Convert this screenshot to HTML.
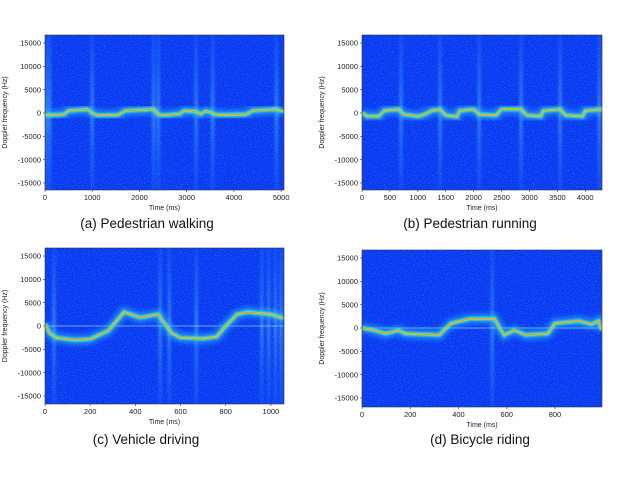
<!DOCTYPE html>
<html><head><meta charset="utf-8"><style>
html,body{margin:0;padding:0;background:#fff;}
svg{display:block;font-family:"Liberation Sans",sans-serif;}
.tk{font-size:7.5px;fill:#222;}
.ax{font-size:7px;fill:#222;}
.cap{font-size:13.5px;fill:#111;}
</style></head><body>
<svg id="fig" width="640" height="478" viewBox="0 0 640 478">
<defs>
<filter id="noise" x="0" y="0" width="100%" height="100%">
<feTurbulence type="fractalNoise" baseFrequency="0.9" numOctaves="2" seed="3"/>
<feColorMatrix type="matrix" values="0 0 0 0 0.1  0 0 0 0 0.4  0 0 0 0 1  0 0 0 1.8 -0.8"/>
</filter>
<filter id="blur1" x="-10%" y="-50%" width="120%" height="200%"><feGaussianBlur stdDeviation="2.2"/></filter>
<filter id="blur2" filterUnits="userSpaceOnUse" x="0" y="0" width="640" height="478"><feGaussianBlur stdDeviation="0.8"/></filter>
<filter id="blurS" filterUnits="userSpaceOnUse" x="0" y="0" width="640" height="478"><feGaussianBlur stdDeviation="1.2 0"/></filter>
<linearGradient id="sg" x1="0" y1="0" x2="0" y2="1">
<stop offset="0" stop-color="#3a9cff" stop-opacity="0.35"/>
<stop offset="0.5" stop-color="#70e8ff" stop-opacity="0.75"/>
<stop offset="1" stop-color="#3a9cff" stop-opacity="0.35"/>
</linearGradient>
</defs>
</svg>
<script>
// Panel (a) pedestrian walking
const walkT=[0,400,500,900,1000,1100,1550,1700,2300,2400,2500,2850,2950,3200,3300,3400,3500,3600,3700,4250,4400,4900,5050];
const walkF=[-500,-300,500,800,0,-500,-400,500,800,-300,-500,-200,500,300,-200,400,200,-300,-400,-300,500,800,300];
const walkStreaks=[30,100,1000,2300,2400,3200,3550,4900];
const walkXTicks=[0,1000,2000,3000,4000,5000];
// Panel (b) pedestrian running
const runT=[0,100,300,400,650,750,1000,1100,1250,1400,1500,1700,1750,2000,2100,2400,2500,2850,2950,3200,3250,3550,3650,3950,4000,4300];
const runF=[0,-700,-700,500,800,-300,-700,-400,500,800,-500,-800,500,800,-300,-500,800,800,-500,-700,500,800,-500,-700,500,800];
const runStreaks=[700,1400,2100,2850,3550,4250];
const runXTicks=[0,500,1000,1500,2000,2500,3000,3500,4000];
// Panel (c) vehicle driving
const vehT=[0,20,50,130,200,280,350,420,500,560,600,700,760,800,850,900,1000,1055];
const vehF=[500,-1500,-2500,-3000,-2800,-1000,3000,1800,2500,-1500,-2500,-2700,-2300,0,2500,3000,2500,1700];
const vehStreaks=[40,510,550,670,960,990,1020,1045];
const vehXTicks=[0,200,400,600,800,1000];
// Panel (d) bicycle riding
const bikeT=[0,50,100,150,180,320,350,370,450,550,570,590,630,680,770,800,900,950,980,995];
const bikeF=[0,-500,-1200,-500,-1200,-1500,0,1000,2000,2000,0,-1500,-500,-1500,-1200,1000,1500,800,1500,-500];
const bikeStreaks=[540];
const bikeXTicks=[0,200,400,600,800];
const yTicks=[15000,10000,5000,0,-5000,-10000,-15000];

const NS='http://www.w3.org/2000/svg';
const svg=document.getElementById('fig');
function mk(tag,attrs,parent){const e=document.createElementNS(NS,tag);for(const k in attrs)e.setAttribute(k,attrs[k]);(parent||svg).appendChild(e);return e;}

const panels=[
 {id:'a',x0:45,x1:284,y0:35,y1:190,tmax:5060,ymid:113,yspan:70,T:walkT,F:walkF,S:walkStreaks,xt:walkXTicks,xl:'Time (ms)',cap:'(a) Pedestrian walking',capx:147,capy:228,zero:false},
 {id:'b',x0:362,x1:602,y0:35,y1:190,tmax:4300,ymid:113,yspan:70,T:runT,F:runF,S:runStreaks,xt:runXTicks,xl:'Time (ms)',cap:'(b) Pedestrian running',capx:470,capy:228,zero:false},
 {id:'c',x0:45,x1:284,y0:248,y1:404,tmax:1058,ymid:326,yspan:70,T:vehT,F:vehF,S:vehStreaks,xt:vehXTicks,xl:'Time (ms)',cap:'(c) Vehicle driving',capx:146,capy:444,zero:true},
 {id:'d',x0:362,x1:602,y0:250,y1:407,tmax:995,ymid:328,yspan:70,T:bikeT,F:bikeF,S:bikeStreaks,xt:bikeXTicks,xl:'Time (ms)',cap:'(d) Bicycle riding',capx:480,capy:444,zero:true}
];

panels.forEach(p=>{
 const g=mk('g',{});
 
 
 const xs=t=>p.x0+(t/p.tmax)*(p.x1-p.x0);
 const ys=f=>p.ymid-(f/15000)*p.yspan;
 const clipId='clip'+p.id;
 const cp0=mk('clipPath',{id:clipId},g);
 mk('rect',{x:p.x0,y:p.y0,width:p.x1-p.x0,height:p.y1-p.y0},cp0);
 const inner=mk('g',{'clip-path':'url(#'+clipId+')'},g);
 const bg=mk('rect',{x:p.x0,y:p.y0,width:p.x1-p.x0,height:p.y1-p.y0,fill:'#0636f0'},inner);
 
 
 mk('rect',{x:p.x0,y:p.y0,width:p.x1-p.x0,height:p.y1-p.y0,filter:'url(#noise)',opacity:0.6},inner);
 p.S.forEach(t=>{
  const s=mk('rect',{x:xs(t)-1.5,y:p.y0,width:3,height:p.y1-p.y0,fill:'url(#sg)',opacity:0.6,filter:'url(#blurS)'},inner);
  
  
 });
 if(p.zero){
  const z=mk('line',{x1:p.x0,x2:p.x1,y1:p.ymid,y2:p.ymid,stroke:'#9fe8ff','stroke-width':0.8,opacity:0.8},inner);
  
  
 }
 const pts=p.T.map((t,i)=>xs(t).toFixed(1)+','+ys(p.F[i]).toFixed(1)).join(' ');
 mk('polyline',{points:pts,fill:'none',stroke:'#30b8ff','stroke-width':11,opacity:0.5,filter:'url(#blur1)'},inner);
 mk('polyline',{points:pts,fill:'none',stroke:'#40f0c0','stroke-width':4.5,opacity:0.75,filter:'url(#blur2)'},inner);
 mk('polyline',{points:pts,fill:'none',stroke:'#e8f030','stroke-width':1.6,opacity:0.95},inner);
 const r=mk('polyline',{points:pts,fill:'none',stroke:'#e02010','stroke-width':0.9,opacity:0.45},inner);
 
 
 mk('rect',{x:p.x0,y:p.y0,width:p.x1-p.x0,height:p.y1-p.y0,fill:'none',stroke:'#333','stroke-width':0.6},g);
 yTicks.forEach(v=>{
  const y=ys(v);
  mk('line',{x1:p.x0-2,x2:p.x0,y1:y,y2:y,stroke:'#333','stroke-width':0.6},g);
  const tx=mk('text',{x:p.x0-4,y:y+2.6,'text-anchor':'end',class:'tk'},g);
  tx.textContent=v;
  
  
 });
 p.xt.forEach(v=>{
  const x=xs(v);
  mk('line',{x1:x,x2:x,y1:p.y1,y2:p.y1+2,stroke:'#333','stroke-width':0.6},g);
  const tx=mk('text',{x:x,y:p.y1+10,'text-anchor':'middle',class:'tk'},g);
  tx.textContent=v;
  
  
 });
 const xl=mk('text',{x:(p.x0+p.x1)/2,y:p.y1+20,'text-anchor':'middle',class:'ax'},g);
 xl.textContent=p.xl;
 
 
 const yx=p.x0-38, yy=(p.y0+p.y1)/2;
 const yl=mk('text',{x:yx,y:yy,'text-anchor':'middle',class:'ax',transform:'rotate(-90 '+yx+' '+yy+')'},g);
 yl.textContent='Doppler frequency (Hz)';
 
 
 const cp=mk('text',{x:p.capx,y:p.capy,'text-anchor':'middle',class:'cap'},g);
 cp.textContent=p.cap;
 
 
});
</script>
</body></html>
